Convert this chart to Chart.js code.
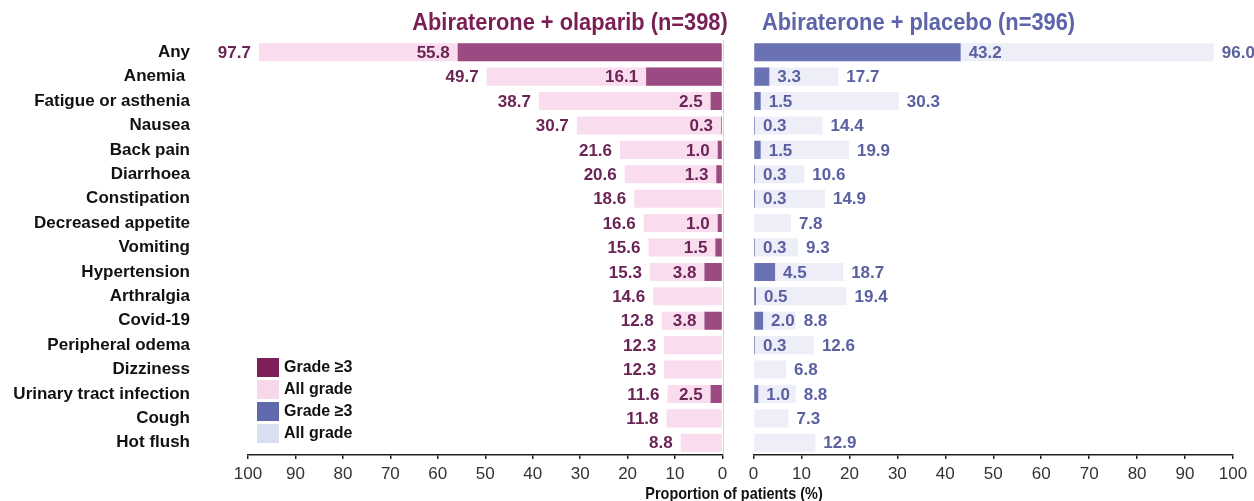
<!DOCTYPE html>
<html>
<head>
<meta charset="utf-8">
<script src="https://cdn.jsdelivr.net/npm/chart.js@4.4.1/dist/chart.umd.min.js"></script>
<style>
  body { margin: 0; background: #fff; }
  #wrap { position: relative; width: 1254px; height: 501px; overflow: hidden; background: #fff;
          font-family: "Liberation Sans", Arial, sans-serif; }
  canvas { position: absolute; top: 0; }
  #leftChart { left: 0; }
  #rightChart { left: 740px; }
  .title { position: absolute; top: 8px; white-space: nowrap; font: bold 24px "Liberation Sans", Arial, sans-serif; }
  #titleLeft { right: 526px; color: #7a1f55; transform: scaleX(0.91); transform-origin: right center; }
  #titleRight { left: 762px; color: #5d64a9; transform: scaleX(0.91); transform-origin: left center; }
  #axisTitle { position: absolute; top: 484px; left: 534px; width: 400px; text-align: center;
               font: bold 17px "Liberation Sans", Arial, sans-serif; color: #111;
               transform: scaleX(0.85); transform-origin: center center; }
  #legend { position: absolute; left: 257px; top: 356px; }
  .item { height: 22px; display: flex; align-items: center; font-weight: bold; font-size: 16px; color: #111; }
  .sw { width: 22px; height: 19px; margin-right: 5px; }
</style>
</head>
<body>
<div id="wrap">
  <canvas id="leftChart" width="740" height="501"></canvas>
  <canvas id="rightChart" width="514" height="501"></canvas>
  <div class="title" id="titleLeft">Abiraterone + olaparib (n=398)</div>
  <div class="title" id="titleRight">Abiraterone + placebo (n=396)</div>
  <div id="axisTitle">Proportion of patients (%)</div>
  <div id="legend">
    <div class="item"><div class="sw" style="background:#7e1f5a"></div>Grade ≥3</div>
    <div class="item"><div class="sw" style="background:#f6d8ea"></div>All grade</div>
    <div class="item"><div class="sw" style="background:#6068ae"></div>Grade ≥3</div>
    <div class="item"><div class="sw" style="background:#d9def0"></div>All grade</div>
  </div>
</div>
<script>
const categories = ['Any', 'Anemia ', 'Fatigue or asthenia', 'Nausea', 'Back pain', 'Diarrhoea',
  'Constipation', 'Decreased appetite', 'Vomiting', 'Hypertension', 'Arthralgia', 'Covid-19',
  'Peripheral odema', 'Dizziness', 'Urinary tract infection', 'Cough', 'Hot flush'];

const olaparibAll = [97.7, 49.7, 38.7, 30.7, 21.6, 20.6, 18.6, 16.6, 15.6, 15.3, 14.6, 12.8, 12.3, 12.3, 11.6, 11.8, 8.8];
const olaparibGrade3 = [55.8, 16.1, 2.5, 0.3, 1.0, 1.3, null, 1.0, 1.5, 3.8, null, 3.8, null, null, 2.5, null, null];
const placeboAll = [96.0, 17.7, 30.3, 14.4, 19.9, 10.6, 14.9, 7.8, 9.3, 18.7, 19.4, 8.8, 12.6, 6.8, 8.8, 7.3, 12.9];
const placeboGrade3 = [43.2, 3.3, 1.5, 0.3, 1.5, 0.3, 0.3, null, 0.3, 4.5, 0.5, 2.0, 0.3, null, 1.0, null, null];

const xTicks = [0, 10, 20, 30, 40, 50, 60, 70, 80, 90, 100];

const sans = '"Liberation Sans", Arial, sans-serif';

// value labels at the end of each bar + faint zero line
const valueLabels = {
  id: 'valueLabels',
  beforeDatasetsDraw(chart, args, opts) {
    if (!opts.zeroLine) return;
    const ctx = chart.ctx;
    const x = Math.round(chart.scales.x.getPixelForValue(0)) + 0.5;
    ctx.save();
    ctx.strokeStyle = '#d6d6d6';
    ctx.lineWidth = 1;
    ctx.beginPath();
    ctx.moveTo(x, chart.chartArea.top);
    ctx.lineTo(x, chart.chartArea.bottom);
    ctx.stroke();
    ctx.restore();
  },
  afterDatasetsDraw(chart, args, opts) {
    const ctx = chart.ctx;
    const dir = opts.side === 'left' ? -1 : 1;
    ctx.save();
    ctx.font = 'bold 17px ' + sans;
    ctx.fillStyle = opts.color;
    ctx.textBaseline = 'middle';
    ctx.textAlign = dir < 0 ? 'right' : 'left';
    chart.data.datasets.forEach((ds, i) => {
      chart.getDatasetMeta(i).data.forEach((bar, j) => {
        const v = ds.data[j];
        if (v == null) return;
        ctx.fillText(v.toFixed(1), bar.x + dir * 8, bar.y + 1);
      });
    });
    ctx.restore();
  }
};

function xAxis(reverse) {
  return {
    type: 'linear', reverse, min: 0, max: 100,
    border: { display: true, color: '#222', width: 1.5 },
    grid: { drawOnChartArea: false, drawTicks: true, tickLength: 4, color: '#222', lineWidth: 1.5 },
    afterBuildTicks(scale) { scale.ticks = xTicks.map(v => ({ value: v })); },
    ticks: { padding: 5, color: '#333', maxRotation: 0, autoSkip: false, font: { family: sans, size: 17 } },
    afterFit(scale) { scale.height = 46; }
  };
}

function makeChart(id, all, grade3, colors, side) {
  const isLeft = side === 'left';
  return new Chart(document.getElementById(id), {
    type: 'bar',
    data: {
      labels: categories,
      datasets: [
        { label: 'Grade ≥3', data: grade3, backgroundColor: colors.dark, grouped: false, order: 1 },
        { label: 'All grade', data: all, backgroundColor: colors.light, grouped: false, order: 2 }
      ]
    },
    options: {
      indexAxis: 'y',
      responsive: false,
      animation: false,
      events: [],
      layout: { padding: isLeft ? { top: 40, right: 17.5, bottom: 0, left: 0 } : { top: 40, right: 21, bottom: 0, left: 13.5 } },
      datasets: { bar: { barPercentage: 0.74, categoryPercentage: 1 } },
      plugins: {
        legend: { display: false },
        tooltip: { enabled: false },
        valueLabels: { side, color: colors.text, zeroLine: isLeft }
      },
      scales: {
        x: xAxis(isLeft),
        y: isLeft ? {
          // invisible tick marks give the gap between names and bars
          grid: { display: true, drawOnChartArea: false, drawTicks: true, tickLength: 58, color: 'rgba(0,0,0,0)' },
          border: { display: false },
          ticks: { color: '#111', padding: 0, font: { family: sans, size: 17, weight: 'bold' } },
          afterFit(scale) { scale.width = 248; }
        } : { display: false }
      }
    },
    plugins: [valueLabels]
  });
}

makeChart('leftChart', olaparibAll, olaparibGrade3,
  { dark: '#9c4a82', light: '#f9dced', text: '#6b2456' }, 'left');
makeChart('rightChart', placeboAll, placeboGrade3,
  { dark: '#6a72b3', light: '#edeef8', text: '#5a60a0' }, 'right');
</script>
</body>
</html>
